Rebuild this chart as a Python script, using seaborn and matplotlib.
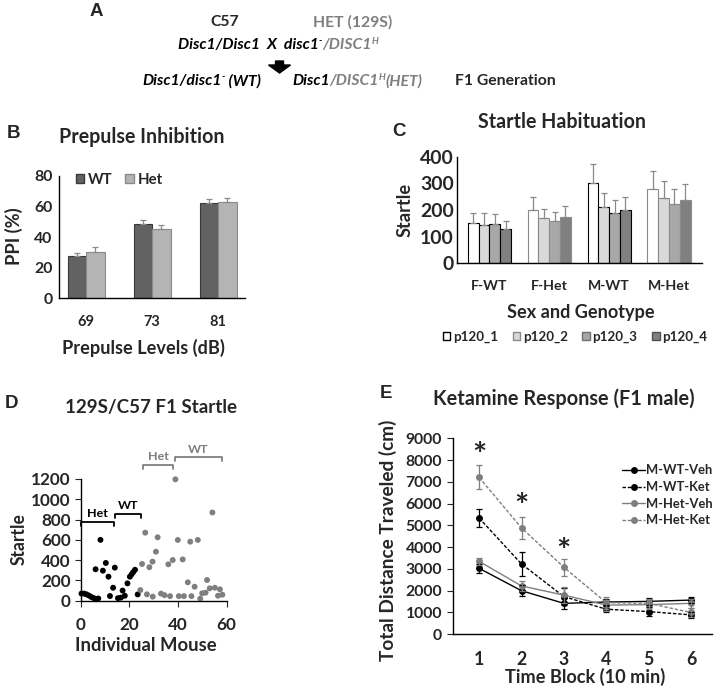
import matplotlib
matplotlib.use("Agg")
import matplotlib.pyplot as plt
import seaborn as sns
import pandas as pd
from matplotlib.patches import FancyArrow, Patch

# ---- B: prepulse inhibition ----
ppi_levels = ["69", "73", "81"]
ppi_wt = [27.5, 48.8, 62.0]
ppi_het = [30.2, 45.0, 62.7]
ppi_wt_err = [2.0, 2.6, 2.7]
ppi_het_err = [3.0, 2.6, 2.5]

# ---- C: startle habituation ----
sex_genotype = ["F-WT", "F-Het", "M-WT", "M-Het"]
pulses = ["p120_1", "p120_2", "p120_3", "p120_4"]
p120_1 = [150, 200, 300, 280]
p120_2 = [144, 169, 212, 246]
p120_3 = [146, 160, 190, 221]
p120_4 = [128, 172, 200, 237]
p120_1_err = [37, 50, 71, 65]
p120_2_err = [43, 33, 53, 61]
p120_3_err = [38, 31, 47, 56]
p120_4_err = [32, 44, 50, 60]

# ---- D: individual startle ----
set1_mouse = [0.4, 1.5, 2.5, 3.5, 4.5, 5.5, 6.2, 6.5, 7.3, 8.2, 9.2, 10.4, 11.5,
              12.1, 13.4, 14.1, 15.4, 16.6, 17.3, 18.2, 19.3, 20.3, 21.0, 21.7, 22.4, 23.5]
set1_startle = [70, 70, 62, 50, 36, 25, 310, 15, 22, 600, 296, 372, 237,
                46, 128, 326, 25, 30, 100, 49, 171, 237, 260, 283, 305, 62]
set2_mouse = [24.6, 25.3, 26.6, 27.3, 28.3, 29.6, 29.7, 31.0, 31.7, 33.1, 34.5, 36.1,
              36.8, 37.9, 39.0, 40.0, 40.4, 42.0, 42.5, 44.1, 45.1, 45.6, 46.9, 48.2,
              49.2, 50.0, 51.4, 52.0, 53.1, 54.2, 55.2, 56.5, 57.3, 58.3]
set2_startle = [105, 362, 671, 63, 330, 385, 40, 483, 625, 70, 55, 359,
                45, 401, 1197, 599, 45, 407, 45, 181, 582, 45, 138, 599,
                20, 73, 79, 204, 122, 870, 128, 49, 112, 59]
# brackets: (start, end, height, label, set)
brackets = [(0.4, 13.8, 780, "Het", "set1"), (14.3, 25.0, 855, "WT", "set1"),
            (25.5, 38.2, 1338, "Het", "set2"), (39.0, 58.0, 1414, "WT", "set2")]

# ---- E: ketamine response ----
time_block = [1, 2, 3, 4, 5, 6]
m_wt_veh = [3020, 1990, 1410, 1470, 1500, 1560]
m_wt_ket = [5330, 3220, 1720, 1140, 1030, 880]
m_het_veh = [3340, 2210, 1790, 1330, 1350, 1410]
m_het_ket = [7200, 4880, 3070, 1440, 1410, 990]
m_wt_veh_err = [200, 250, 250, 150, 150, 150]
m_wt_ket_err = [400, 550, 400, 150, 200, 150]
m_het_veh_err = [150, 250, 350, 250, 200, 200]
m_het_ket_err = [550, 520, 400, 280, 200, 200]
star_blocks = [1, 2, 3]
star_heights = [8150, 5800, 3750]

W, H = 714, 687
sns.set_style("white")
plt.rcParams["font.family"] = ["Lato", "DejaVu Sans"]
plt.rcParams["font.weight"] = "bold"
plt.rcParams["axes.labelweight"] = "bold"
plt.rcParams["axes.titleweight"] = "bold"
plt.rcParams["axes.linewidth"] = 1.0
plt.rcParams["axes.edgecolor"] = "black"

GRAY = "#7f7f7f"
fig = plt.figure(figsize=(W / 100, H / 100), dpi=100)
rend = fig.canvas.get_renderer()

# overlay in pixel coordinates for panel A and panel letters
over = fig.add_axes([0, 0, 1, 1], facecolor="none")
over.set_xlim(0, W)
over.set_ylim(H, 0)
over.axis("off")
over.set_zorder(10)


def fit(s, target, style="normal", base=10):
    # font size that makes string s about target pixels wide
    t = over.text(0, 0, s, fontsize=base, fontstyle=style)
    w = t.get_window_extent(rend).width
    t.remove()
    return base * target / w


def box(b):
    l, t, r, bt = b
    return [l / W, 1 - bt / H, (r - l) / W, (bt - t) / H]


def to_ax(b, px, py):
    l, t, r, bt = b
    return (px - l) / (r - l), (bt - py) / (bt - t)


def dress(ax, b, title, tpos, tw, xlabel, xpos, xw, ylabel, ypos, ysize):
    sns.despine(ax=ax)
    tx, ty = to_ax(b, *tpos)
    ax.set_title(title, x=tx, y=ty, va="center", fontsize=fit(title, tw))
    ax.set_xlabel(xlabel, fontsize=fit(xlabel, xw))
    ax.set_ylabel(ylabel, fontsize=ysize)
    ax.xaxis.set_label_coords(*to_ax(b, *xpos))
    ax.yaxis.set_label_coords(*to_ax(b, *ypos))
    ax.xaxis.label.set_va("center")
    ax.yaxis.label.set_va("center")


# ================= B =================
bB = (59.3, 175.7, 245, 298.3)
axB = fig.add_axes(box(bB))
dfB = pd.DataFrame({"level": ppi_levels * 2,
                    "ppi": ppi_wt + ppi_het,
                    "genotype": ["WT"] * 3 + ["Het"] * 3})
sns.barplot(data=dfB, x="level", y="ppi", hue="genotype", order=ppi_levels,
            palette=["#626262", "#b4b4b4"], saturation=1, width=0.56,
            errorbar=None, legend=False, linewidth=0.8, ax=axB)
for cont, edge, err in zip(axB.containers, ["#3a3a3a", "#8a8a8a"], [ppi_wt_err, ppi_het_err]):
    xs, ys = [], []
    for bar in cont:
        bar.set_edgecolor(edge)
        xs.append(bar.get_x() + bar.get_width() / 2)
        ys.append(bar.get_height())
    axB.errorbar(xs, ys, yerr=[[0] * len(err), err], fmt="none", ecolor="#8a8a8a",
                 elinewidth=0.9, capsize=2.5, capthick=0.9)
axB.set_ylim(0, 80)
axB.set_yticks(range(0, 81, 20))
axB.tick_params(axis="y", length=0, pad=5, labelsize=fit("80", 18.5))
axB.tick_params(axis="x", length=0, pad=12, labelsize=fit("69", 17))
dress(axB, bB, "Prepulse Inhibition", (142, 145), 165, "Prepulse Levels (dB)", (143, 348), 163,
      "PPI (%)", (14, 236), fit("Startle", 54))
axB.legend(handles=[Patch(facecolor="#626262", edgecolor="#3a3a3a", label="WT"),
                    Patch(facecolor="#b4b4b4", edgecolor="#8a8a8a", label="Het")],
           loc="center", bbox_to_anchor=(119 / W, 1 - 180 / H), bbox_transform=fig.transFigure,
           ncol=2, frameon=False, fontsize=fit("Het", 25), handlelength=0.55, handleheight=0.55,
           handletextpad=0.25, columnspacing=0.9, borderpad=0)

# ================= C =================
bC = (456.7, 156.7, 701.7, 263.3)
axC = fig.add_axes(box(bC))
c_vals = [p120_1, p120_2, p120_3, p120_4]
c_errs = [p120_1_err, p120_2_err, p120_3_err, p120_4_err]
c_fill = ["#ffffff", "#d9d9d9", "#a8a8a8", "#808080"]
dfC = pd.DataFrame({"group": sex_genotype * 4,
                    "startle": sum(c_vals, []),
                    "pulse": [p for p in pulses for _ in sex_genotype]})
sns.barplot(data=dfC, x="group", y="startle", hue="pulse", order=sex_genotype,
            hue_order=pulses, palette=c_fill, saturation=1, width=0.72,
            errorbar=None, legend=False, linewidth=0.8, ax=axC)
for cont, err in zip(axC.containers, c_errs):
    xs, ys = [], []
    for bar, g in zip(cont, sex_genotype):
        bar.set_edgecolor("black" if g.endswith("WT") else "#8a8a8a")
        xs.append(bar.get_x() + bar.get_width() / 2)
        ys.append(bar.get_height())
    axC.errorbar(xs, ys, yerr=[[0] * len(err), err], fmt="none", ecolor="#8a8a8a",
                 elinewidth=0.9, capsize=2.5, capthick=0.9)
axC.set_ylim(0, 400)
axC.set_yticks(range(0, 401, 100))
axC.tick_params(axis="y", length=0, pad=2, labelsize=fit("400", 34))
axC.tick_params(axis="x", length=0, pad=12, labelsize=fit("F-Het", 37))
dress(axC, bC, "Startle Habituation", (561.5, 130), 167, "Sex and Genotype", (581, 312.5), 148,
      "Startle", (405.5, 210), fit("Startle", 54))
axC.legend(handles=[Patch(facecolor=f, edgecolor=e, label=p) for f, e, p in
                    zip(c_fill, ["black", "#8a8a8a", "#707070", "#505050"], pulses)],
           loc="center", bbox_to_anchor=(575 / W, 1 - 337 / H), bbox_transform=fig.transFigure,
           ncol=4, frameon=False, fontsize=fit("p120_1", 45), handlelength=0.55,
           handleheight=0.55, handletextpad=0.2, columnspacing=1.1, borderpad=0)

# ================= D =================
bD = (80.5, 479, 226.5, 600.7)
axD = fig.add_axes(box(bD))
dfD = pd.DataFrame({"mouse": set1_mouse + set2_mouse,
                    "startle": set1_startle + set2_startle,
                    "set": ["set1"] * len(set1_mouse) + ["set2"] * len(set2_mouse)})
set_color = {"set1": "black", "set2": GRAY}
sns.scatterplot(data=dfD, x="mouse", y="startle", hue="set", palette=set_color,
                s=18, linewidth=0, legend=False, clip_on=False, ax=axD)
br_size = fit("Het", 21)
for x0, x1, yb, txt, s in brackets:
    c = set_color[s]
    axD.plot([x0, x0, x1, x1], [yb - 40, yb, yb, yb - 40], color=c, lw=1.3,
             clip_on=False)
    axD.text((x0 + x1) / 2, yb + 25, txt, color=c, ha="center", va="bottom",
             fontsize=br_size)
axD.set_xlim(0, 60)
axD.set_ylim(0, 1200)
axD.set_xticks(range(0, 61, 20))
axD.set_yticks(range(0, 1201, 200))
axD.tick_params(axis="y", length=4, pad=3, labelsize=fit("1200", 40), direction="out", left=True)
axD.tick_params(axis="x", length=4, pad=8, labelsize=fit("20", 20), direction="out", bottom=True)
dress(axD, bD, "129S/C57 F1 Startle", (151, 415.5), 172, "Individual Mouse", (146, 645.5), 142,
      "Startle", (19, 539), fit("Startle", 52))

# ================= E =================
bE = (453.3, 438.3, 711.7, 634)
axE = fig.add_axes(box(bE))
e_names = ["M-WT-Veh", "M-WT-Ket", "M-Het-Veh", "M-Het-Ket"]
e_vals = [m_wt_veh, m_wt_ket, m_het_veh, m_het_ket]
e_errs = [m_wt_veh_err, m_wt_ket_err, m_het_veh_err, m_het_ket_err]
e_color = {"M-WT-Veh": "black", "M-WT-Ket": "black", "M-Het-Veh": GRAY, "M-Het-Ket": GRAY}
dfE = pd.DataFrame({"block": time_block * 4,
                    "distance": sum(e_vals, []),
                    "group": [n for n in e_names for _ in time_block]})
sns.lineplot(data=dfE, x="block", y="distance", hue="group", style="group",
             hue_order=e_names, style_order=e_names, palette=e_color,
             dashes={"M-WT-Veh": "", "M-WT-Ket": (2.5, 1.3), "M-Het-Veh": "", "M-Het-Ket": (2.5, 1.3)},
             markers={n: "o" for n in e_names}, markersize=5, markeredgewidth=0,
             linewidth=1.0, errorbar=None, legend=False, ax=axE)
lines = list(axE.get_lines())[:4]
for n, v, e in zip(e_names, e_vals, e_errs):
    axE.errorbar(time_block, v, yerr=e, fmt="none", ecolor=e_color[n],
                 elinewidth=0.9, capsize=2.5, capthick=0.9)
for xb, yh in zip(star_blocks, star_heights):
    axE.text(xb, yh, "*", ha="center", va="center", fontsize=24)
axE.set_xlim(0.39, 6.49)
axE.set_ylim(0, 9000)
axE.set_xticks(time_block)
axE.set_yticks(range(0, 9001, 1000))
e_tick = fit("9000", 37)
axE.tick_params(axis="y", length=4, pad=4, labelsize=e_tick, direction="out", left=True)
axE.tick_params(axis="x", length=0, pad=12, labelsize=e_tick * 1.12)
dress(axE, bE, "Ketamine Response (F1 male)", (564, 407), 262, "Time Block (10 min)", (585, 677), 160,
      "Total Distance Traveled (cm)", (388, 540), fit("Time Block (10 min)", 160) * 1.05)
axE.legend(lines, e_names, loc="upper left", bbox_to_anchor=(616 / W, 1 - 458 / H),
           bbox_transform=fig.transFigure, frameon=False, fontsize=fit("M-WT-Veh", 66),
           handlelength=1.75, handletextpad=0.1, labelspacing=0.36, borderpad=0)

# ================= A and panel letters =================


def chain(x, y, parts, size):
    for s, color, style, dy, scale in parts:
        t = over.text(x, y + dy, s, color=color, fontstyle=style, fontsize=size * scale,
                      ha="left", va="center")
        x += t.get_window_extent(rend).width


a_size = fit("Disc1/Disc1", 82, style="italic")
over.text(210, 22, "C57", fontsize=a_size, va="center")
over.text(313, 22, "HET (129S)", fontsize=a_size, va="center", color=GRAY)
chain(178, 45, [("Disc1/Disc1  X  disc1", "black", "italic", 0, 1),
                ("-", "black", "italic", -4, 0.6),
                ("/DISC1", GRAY, "italic", 0, 1), ("H", GRAY, "italic", -4, 0.6)], a_size)
over.add_patch(FancyArrow(279.5, 61, 0, 12, width=8, head_width=22, head_length=8,
                          length_includes_head=True, color="black"))
chain(142, 81, [("Disc1/disc1", "black", "italic", 0, 1), ("-", "black", "italic", -4, 0.6),
                (" (WT)", "black", "italic", 0, 1)], a_size)
chain(292, 81, [("Disc1", "black", "italic", 0, 1), ("/DISC1", GRAY, "italic", 0, 1),
                ("H", GRAY, "italic", -4, 0.6), ("(HET)", GRAY, "italic", 0, 1)], a_size)
over.text(455, 81, "F1 Generation", fontsize=a_size, va="center")

for letter, px, py in [("A", 96, 11), ("B", 14, 133), ("C", 399, 131), ("D", 12, 403), ("E", 386, 394)]:
    over.text(px, py, letter, ha="center", va="center", fontsize=13.5,
              family=["Liberation Sans", "DejaVu Sans"], fontweight="bold")

fig.savefig("out.png", dpi=100)
